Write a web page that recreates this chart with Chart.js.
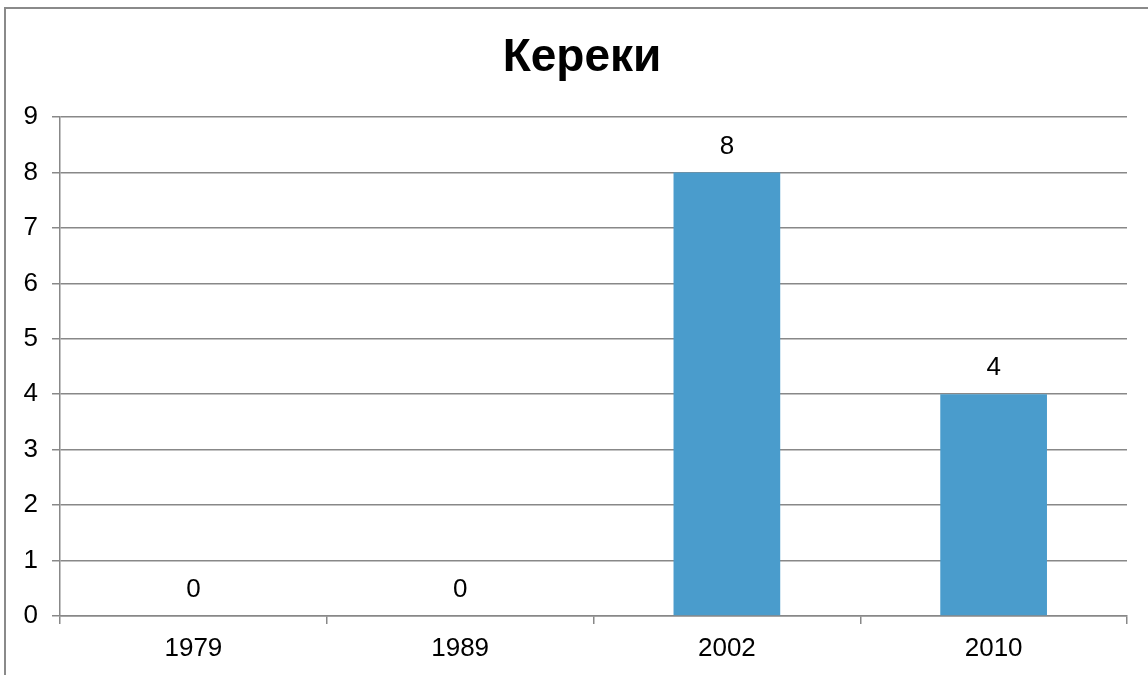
<!DOCTYPE html>
<html>
<head>
<meta charset="utf-8">
<script src="https://cdn.jsdelivr.net/npm/chart.js@4"></script>
<style>
  html, body { margin: 0; padding: 0; background: #fff; overflow: hidden; }
  #frame {
    position: absolute; left: 4px; top: 7px;
    width: 1300px; height: 800px;
    border: 2px solid #8a8a8a;
  }
  #chart { position: absolute; left: 0; top: 0; }
</style>
</head>
<body>
<div id="frame"></div>
<canvas id="chart" width="1148" height="675"></canvas>
<script>
const years = ["1979", "1989", "2002", "2010"];
const speakers = [0, 0, 8, 4];
const titleText = "Кереки";

const FONT = "'Liberation Sans', Arial, sans-serif";

// value labels above the bars + title drawn a bit right of centre like the original
const valueLabels = {
  id: "valueLabels",
  afterDatasetsDraw(chart) {
    const ctx = chart.ctx;
    const meta = chart.getDatasetMeta(0);
    ctx.save();
    ctx.font = "26px " + FONT;
    ctx.fillStyle = "#000";
    ctx.textAlign = "center";
    ctx.textBaseline = "middle";
    meta.data.forEach((bar, i) => {
      ctx.fillText(String(speakers[i]), bar.x, bar.y - 26);
    });
    ctx.font = "bold 46px " + FONT;
    ctx.textBaseline = "alphabetic";
    ctx.fillText(titleText, 582, 71);
    ctx.restore();
  },
};

const chartEl = document.querySelector("#chart");
const graph = new Chart(chartEl, {
  type: "bar",
  data: {
    labels: years,
    datasets: [
      {
        data: speakers,
        backgroundColor: "#4a9ccc",
        borderWidth: 0,
        barPercentage: 0.4,
        categoryPercentage: 1,
      },
    ],
  },
  options: {
    responsive: false,
    animation: false,
    layout: { padding: { left: 0, right: 21, top: 0, bottom: 0 } },
    plugins: {
      legend: { display: false },
      tooltip: { enabled: false },
      // keeps the space at the top; the text itself is painted by the plugin
      title: {
        display: true,
        text: titleText,
        color: "rgba(0,0,0,0)",
        font: { family: FONT, size: 44, weight: "bold" },
        padding: { top: 28.6, bottom: 35.6 },
      },
    },
    scales: {
      x: {
        grid: {
          offset: true,
          drawOnChartArea: false,
          drawTicks: true,
          tickLength: 8,
          color: "#888",
          lineWidth: 1.5,
        },
        border: { color: "#888", width: 1.5 },
        ticks: {
          color: "#000",
          font: { family: FONT, size: 26 },
          padding: 9,
          maxRotation: 0,
        },
        afterFit(scale) { scale.height = 59; },
      },
      y: {
        min: 0,
        max: 9,
        grid: { color: "#888", lineWidth: 1.5, tickLength: 8 },
        border: { color: "#888", width: 1.5 },
        ticks: {
          stepSize: 1,
          color: "#000",
          font: { family: FONT, size: 26 },
          padding: 14,
        },
        afterFit(scale) { scale.width = 60; },
      },
    },
  },
  plugins: [valueLabels],
});
</script>
</body>
</html>
